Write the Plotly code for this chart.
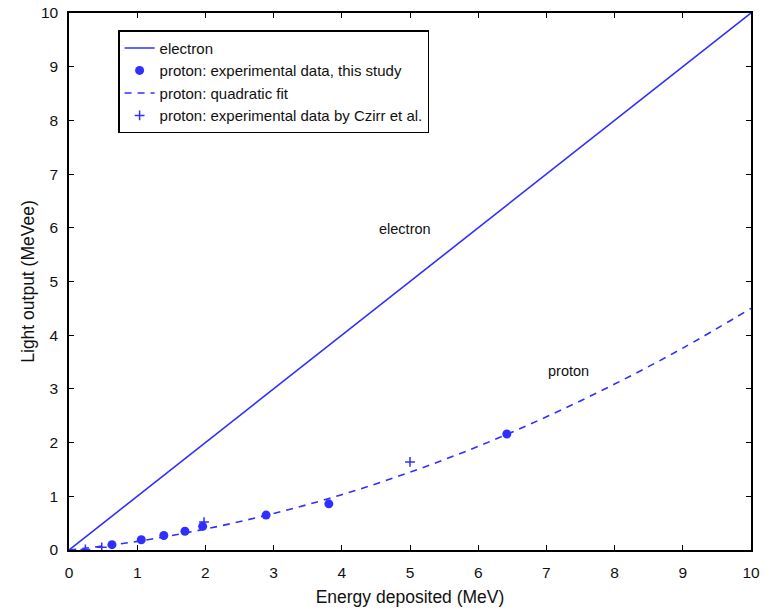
import plotly.graph_objects as go

# Data
electron_E = [0, 10]
electron_L = [0, 10]

study_E = [0.63, 1.06, 1.39, 1.70, 1.96, 2.89, 3.81, 6.42]
study_L = [0.10, 0.19, 0.27, 0.35, 0.44, 0.65, 0.86, 2.16]

fit_E = [0, 1, 2, 3, 4, 5, 6, 7, 8, 9, 10]
fit_L = [0, 0.16, 0.39, 0.68, 1.03, 1.45, 1.93, 2.48, 3.09, 3.76, 4.50]

czirr_E = [0.24, 0.48, 1.98, 5.0]
czirr_L = [0.01, 0.05, 0.52, 1.64]

BLUE = "#2f2fff"
FONT = "Liberation Sans, Arial, sans-serif"

fig = go.Figure()
fig.add_trace(go.Scatter(x=electron_E, y=electron_L, mode="lines",
                         line=dict(color=BLUE, width=1.6), name="electron"))
fig.add_trace(go.Scatter(x=study_E, y=study_L, mode="markers",
                         marker=dict(color=BLUE, size=9, symbol="circle"),
                         name="proton: experimental data, this study"))
fig.add_trace(go.Scatter(x=fit_E, y=fit_L, mode="lines", line_shape="spline",
                         line=dict(color=BLUE, width=1.6, dash="7px,6px"),
                         name="proton: quadratic fit"))
fig.add_trace(go.Scatter(x=czirr_E, y=czirr_L, mode="markers",
                         marker=dict(color=BLUE, size=7, symbol="cross-thin",
                                     line=dict(color=BLUE, width=1.5)),
                         name="proton: experimental data by Czirr et al."))

fig.add_annotation(x=4.93, y=5.98, text="electron", showarrow=False,
                   font=dict(family=FONT, size=14.5, color="#111"))
fig.add_annotation(x=7.33, y=3.33, text="proton", showarrow=False,
                   font=dict(family=FONT, size=14.5, color="#111"))

axis_common = dict(range=[0, 10], dtick=1, showgrid=False, zeroline=False,
                   showline=True, linecolor="black", linewidth=1.5, mirror="ticks",
                   ticks="inside", ticklen=5, tickcolor="black", tickwidth=1.2,
                   automargin=False,
                   tickfont=dict(family=FONT, size=15.5, color="#111"))

fig.update_layout(
    width=764, height=610,
    margin=dict(l=69, r=13, t=13, b=60, autoexpand=False),
    paper_bgcolor="white", plot_bgcolor="white",
    font=dict(family=FONT, color="#111"),
    xaxis=dict(**axis_common, ticklabelstandoff=8,
               title=dict(text="Energy deposited (MeV)", font=dict(family=FONT, size=17.5), standoff=10)),
    yaxis=dict(**axis_common, ticklabelstandoff=6,
               title=dict(text="Light output (MeVee)", font=dict(family=FONT, size=17.5), standoff=2)),
    legend=dict(x=0.072, y=0.968, xanchor="left", yanchor="top",
                bordercolor="black", borderwidth=1.5, bgcolor="white",
                font=dict(family=FONT, size=15, color="#111"),
                tracegroupgap=0, itemwidth=30),
    showlegend=True,
)

fig.write_html("out.html", config={"displayModeBar": False},
               post_script="document.body.style.margin='0';document.body.style.overflow='hidden';")
